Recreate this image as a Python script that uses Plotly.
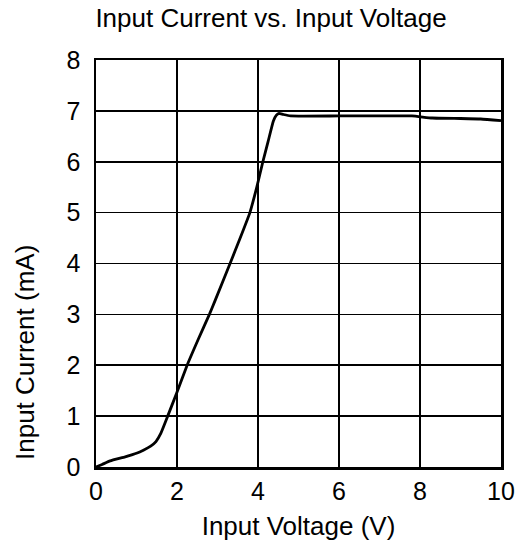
import plotly.graph_objects as go

voltage = [0, 0.15, 0.35, 0.72, 1.0, 1.17, 1.35, 1.48, 1.6, 1.77, 1.99, 2.25, 2.52, 2.8, 2.94,
           3.31, 3.55, 3.8, 3.97, 4.12, 4.25, 4.38, 4.45, 4.52, 4.62, 4.8, 6.0, 7.0, 7.8,
           8.3, 9.0, 9.5, 10.0]
current = [0, 0.05, 0.12, 0.2, 0.27, 0.33, 0.41, 0.5, 0.66, 1.0, 1.45, 2.0, 2.5, 3.0, 3.27,
           4.0, 4.48, 5.0, 5.5, 6.0, 6.4, 6.8, 6.91, 6.95, 6.93, 6.9, 6.9, 6.9, 6.9,
           6.86, 6.85, 6.84, 6.81]

x_ticks = [0, 2, 4, 6, 8, 10]
y_ticks = [0, 1, 2, 3, 4, 5, 6, 7, 8]

FONT = "Liberation Sans, Arial, sans-serif"
W, H = 521, 553
L, R, T, B = 96, 20, 60, 86

fig = go.Figure()
fig.add_trace(go.Scatter(x=voltage, y=current, mode="lines",
                         line=dict(color="black", width=2.8, shape="spline", smoothing=0.4),
                         showlegend=False, hoverinfo="skip"))

fig.update_layout(
    width=W, height=H,
    margin=dict(l=L, r=R, t=T, b=B),
    paper_bgcolor="white", plot_bgcolor="white",
    font=dict(family=FONT, size=25, color="black"),
    title=dict(text="Input Current vs. Input Voltage", x=271 / W, xanchor="center",
               y=1 - 18 / H, yanchor="middle", font=dict(size=26, family=FONT)),
)
fig.update_xaxes(range=[0, 10], tickvals=x_ticks, ticktext=[str(v) for v in x_ticks],
                 showgrid=True, gridcolor="black", gridwidth=1.7,
                 showline=True, linecolor="black", linewidth=2.5, mirror=True,
                 ticks="", automargin=False,
                 zeroline=False, tickfont=dict(size=25),
                 title=dict(text="Input Voltage (V)", font=dict(size=26), standoff=14))
fig.update_yaxes(range=[0, 8], tickvals=y_ticks, ticktext=[str(v) for v in y_ticks],
                 showgrid=True, gridcolor="black", gridwidth=1.7,
                 showline=True, linecolor="black", linewidth=2.5, mirror=True,
                 ticks="outside", ticklen=8, tickcolor="rgba(0,0,0,0)", automargin=False,
                 zeroline=False, tickfont=dict(size=25))
pw, ph = W - L - R, H - T - B
fig.add_annotation(text="Input Current (mA)", xref="paper", yref="paper",
                   x=(25 - L) / pw, y=(H - B - 353) / ph,
                   xanchor="center", yanchor="middle", textangle=-90, showarrow=False,
                   font=dict(size=26, family=FONT))

fig.write_html("out.html", config={"displayModeBar": False, "staticPlot": True},
               post_script="document.body.style.margin='0';document.body.style.padding='0';")
